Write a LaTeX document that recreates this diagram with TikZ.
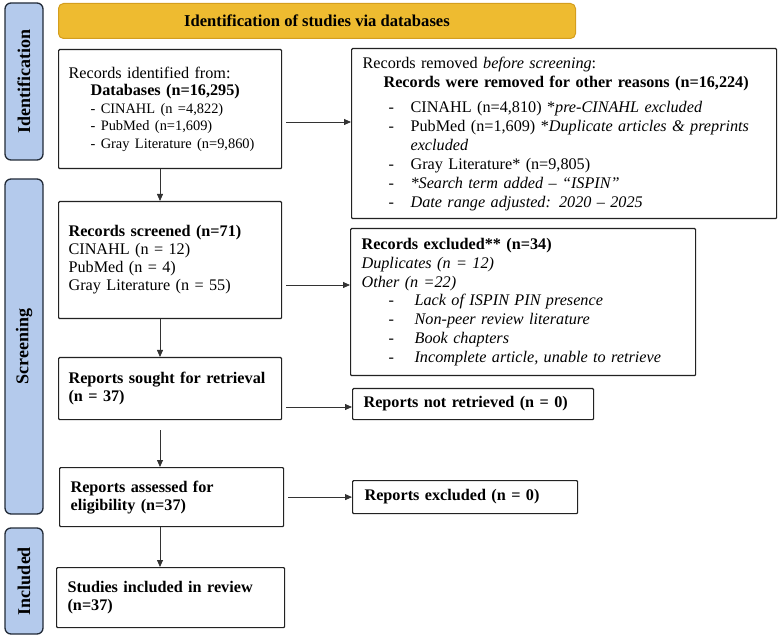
\documentclass[tikz,border=0pt]{standalone}
\usepackage{fontspec}
\setmainfont{Liberation Serif}
\usetikzlibrary{arrows.meta}
\definecolor{gold}{HTML}{EEBB30}
\definecolor{goldline}{HTML}{D49E1E}
\definecolor{phasefill}{HTML}{B4CAEC}
\definecolor{phaseline}{HTML}{222B38}
\definecolor{boxline}{HTML}{222222}
\definecolor{arrline}{HTML}{333333}
\newcommand{\subsz}{\fontsize{14.4}{17.5}\selectfont}
\begin{document}
\begin{tikzpicture}[x=1pt,y=-1pt,
  box/.style={draw=boxline, line width=1.2pt, rectangle, rounded corners=1pt,
    anchor=north west, inner xsep=10pt, inner ysep=0pt, align=left,
    font=\fontsize{16.2}{18}\selectfont},
  phase/.style={draw=phaseline, fill=phasefill, line width=1.3pt, rounded corners=6pt,
    rotate=90, inner sep=0pt, font=\fontsize{18}{20}\selectfont\bfseries},
  arr/.style={draw=arrline, line width=0.8pt, -{Triangle[length=7pt,width=6pt]}}
]
\useasboundingbox (0,0) rectangle (780,639);

% header
\node[draw=goldline, fill=gold, line width=1pt, rounded corners=5pt, anchor=north west,
  minimum width=517, minimum height=35, inner sep=0pt,
  font=\fontsize{16.6}{18}\selectfont\bfseries] (hdr) at (58,3) {Identification of studies via databases};

% phase labels
\node[phase, minimum width=157, minimum height=38] (pid) at (24,81.5) {Identification};
\node[phase, minimum width=335, minimum height=38] (pscr) at (24,346.5) {Screening};
\node[phase, minimum width=106, minimum height=38] (pinc) at (24,581) {Included};

% boxes
\node[box, text width=203, minimum height=119, font=\fontsize{16.2}{17.5}\selectfont] (b1) at (58,49) {%
Records identified from:\\
\hspace*{22pt}\textbf{Databases (n=16,295)}\\
\hspace*{22pt}{\subsz - CINAHL (n =4,822)}\\
\hspace*{22pt}{\subsz - PubMed (n=1,609)}\\
\hspace*{22pt}{\subsz - Gray Literature (n=9,860)}};

\node[box, inner xsep=11pt, text width=403, minimum height=170,
  font=\fontsize{16.2}{19}\selectfont] (b2) at (351,48) {%
Records removed \textit{before screening}:\\
\hspace*{21pt}\textbf{Records were removed for other reasons (n=16,224)}\\[6pt]
\hspace*{26pt}\makebox[22pt][l]{-}CINAHL (n=4,810) *\textit{pre-CINAHL excluded}\\
\hspace*{26pt}\makebox[22pt][l]{-}PubMed (n=1,609) *\textit{Duplicate articles \& preprints}\\
\hspace*{48pt}\textit{excluded}\\
\hspace*{26pt}\makebox[22pt][l]{-}Gray Literature* (n=9,805)\\
\hspace*{26pt}\makebox[22pt][l]{-}\textit{*Search term added – “ISPIN”}\\
\hspace*{26pt}\makebox[22pt][l]{-}\textit{Date range adjusted: 2020 – 2025}};

\node[box, text width=203, minimum height=117] (b3) at (58,201) {%
\textbf{Records screened (n=71)}\\
CINAHL (n = 12)\\
PubMed (n = 4)\\
Gray Literature (n = 55)};

\node[box, inner xsep=11pt, text width=323, minimum height=147,
  font=\fontsize{16.2}{18.8}\selectfont] (b4) at (350,228) {%
\textbf{Records excluded** (n=34)}\\
\textit{Duplicates (n = 12)}\\
\textit{Other (n =22)}\\
\hspace*{27pt}\makebox[26pt][l]{-}\textit{Lack of ISPIN PIN presence}\\
\hspace*{27pt}\makebox[26pt][l]{-}\textit{Non-peer review literature}\\
\hspace*{27pt}\makebox[26pt][l]{-}\textit{Book chapters}\\
\hspace*{27pt}\makebox[26pt][l]{-}\textit{Incomplete article, unable to retrieve}};

\node[box, text width=203, minimum height=62] (b5) at (58,357) {%
\textbf{Reports sought for retrieval}\\
\textbf{(n = 37)}};

\node[box, inner xsep=11pt, text width=219, minimum height=31] (b6) at (352,388) {%
\textbf{Reports not retrieved (n = 0)}};

\node[box, inner xsep=11pt, text width=202, minimum height=59] (b7) at (59,467) {%
\textbf{Reports assessed for}\\
\textbf{eligibility (n=37)}};

\node[box, inner xsep=12pt, text width=201, minimum height=33] (b8) at (352,480) {%
\textbf{Reports excluded (n = 0)}};

\node[box, inner xsep=11pt, text width=206, minimum height=60] (b9) at (56,567) {%
\textbf{Studies included in review}\\
\textbf{(n=37)}};

% connector guides
\coordinate (xa) at (160,0);
\coordinate (ya) at (0,122);
\coordinate (yb) at (0,285);
\coordinate (yc) at (0,407);

\draw[arr, shorten <=4pt] (b1.east |- ya) -- (b2.west |- ya);
\draw[arr] (b1.south -| xa) -- (b3.north -| xa);
\draw[arr, shorten <=4pt] (b3.east |- yb) -- (b4.west |- yb);
\draw[arr] (b3.south -| xa) -- (b5.north -| xa);
\draw[arr, shorten <=4pt] (b5.east |- yc) -- (b6.west |- yc);
\draw[arr, shorten <=10pt] (b5.south -| xa) -- (b7.north -| xa);
\draw[arr, shorten <=4pt] (b7.east) -- (b8.west);
\draw[arr] (b7.south -| xa) -- (b9.north -| xa);
\end{tikzpicture}
\end{document}
